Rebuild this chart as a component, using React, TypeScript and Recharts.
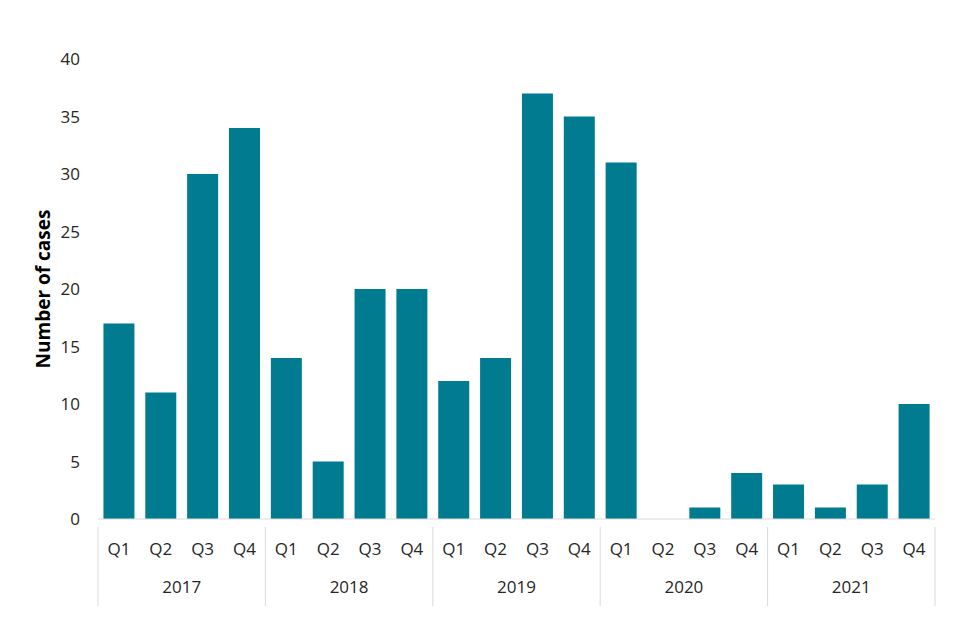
import * as React from "react";
import { Bar, BarChart, XAxis, YAxis } from "recharts";

const quarters = ["Q1", "Q2", "Q3", "Q4"];
const years = ["2017", "2018", "2019", "2020", "2021"];
const cases2017 = [17, 11, 30, 34];
const cases2018 = [14, 5, 20, 20];
const cases2019 = [12, 14, 37, 35];
const cases2020 = [31, 0, 1, 4];
const cases2021 = [3, 1, 3, 10];
const yTicks = [0, 5, 10, 15, 20, 25, 30, 35, 40];

const perYear = [cases2017, cases2018, cases2019, cases2020, cases2021];
const data = years.flatMap((y, yi) =>
  quarters.map((q, qi) => ({ key: `${y}-${q}`, quarter: q, year: y, cases: perYear[yi][qi] }))
);

const W = 960;
const H = 640;
const MARGIN = { top: 59, right: 25, bottom: 0, left: 38 };
const Y_WIDTH = 60;
const X_HEIGHT = 121;
const PLOT_W = W - MARGIN.left - MARGIN.right - Y_WIDTH;
const BAND = PLOT_W / data.length;
const FONT = "'Open Sans', sans-serif";
const TEXT = "#262626";
const LINE = "#d9d9d9";

function QuarterTick(props: any) {
  const { x, y, index } = props;
  const d = data[index];
  if (!d) return null;
  const left = x - BAND / 2;
  return (
    <g>
      <text x={x} y={y + 28} textAnchor="middle" fill={TEXT} fontSize={17} fontFamily={FONT}>
        {d.quarter}
      </text>
      {index % 4 === 0 && (
        <>
          <line x1={left} x2={left} y1={y} y2={y + 79} stroke={LINE} strokeWidth={1} />
          <text x={left + BAND * 2} y={y + 66} textAnchor="middle" fill={TEXT} fontSize={17} fontFamily={FONT}>
            {d.year}
          </text>
        </>
      )}
      {index === data.length - 1 && (
        <line x1={x + BAND / 2} x2={x + BAND / 2} y1={y} y2={y + 79} stroke={LINE} strokeWidth={1} />
      )}
    </g>
  );
}

export default function App() {
  return (
    <div style={{ position: "fixed", left: 0, top: 0, width: W, height: H, background: "#fff" }}>
      <BarChart width={W} height={H} data={data} margin={MARGIN} barCategoryGap="13%">
        <XAxis
          dataKey="key"
          height={X_HEIGHT}
          interval={0}
          axisLine={{ stroke: LINE }}
          tickLine={false}
          tick={<QuarterTick />}
        />
        <YAxis
          domain={[0, 40]}
          ticks={yTicks}
          width={Y_WIDTH}
          axisLine={false}
          tickLine={false}
          tick={{ fill: TEXT, fontSize: 17, fontFamily: FONT }}
          tickMargin={12}
          label={{
            value: "Number of cases",
            angle: -90,
            position: "insideLeft",
            offset: 0,
            dx: 5,
            style: { textAnchor: "middle", fill: "#000", fontSize: 19, fontWeight: 700, fontFamily: FONT },
          }}
        />
        <Bar dataKey="cases" fill="#007b8f" isAnimationActive={false} />
      </BarChart>
    </div>
  );
}
